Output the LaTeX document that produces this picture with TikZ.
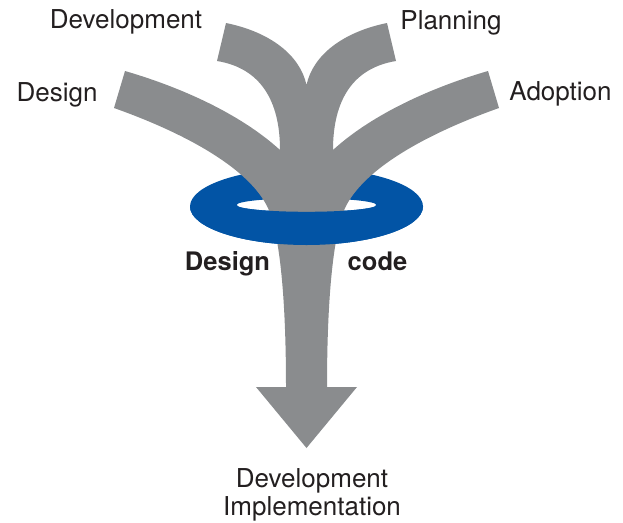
\documentclass[tikz,border=0pt]{standalone}
\usepackage{fontspec}
\setmainfont{TeX Gyre Heros}
\usepackage{tikz}
\usetikzlibrary{positioning}

\definecolor{stemgray}{RGB}{138,140,142}
\definecolor{ringblue}{RGB}{2,84,165}
\definecolor{textdark}{RGB}{35,31,32}

\tikzset{
  lbl/.style={text=textdark,inner sep=0pt,anchor=base,font=\fontsize{26}{28}\selectfont},
  boldlbl/.style={lbl,font=\fontsize{25.5}{28}\selectfont\bfseries},
}

\begin{document}
\begin{tikzpicture}[x=1pt,y=-1pt]
            \useasboundingbox (0,0) rectangle (623,522);

            % ring, back part
            \fill[ringblue,even odd rule] (306.5,206.5) ellipse [x radius=116.5,y radius=38.5]
                                          (306.5,205) ellipse [x radius=70,y radius=6.8];

            % branches and trunk
            \fill[stemgray] (306.5,448) -- (357,387) -- (327,387)
              .. controls (327,300) and (333,235) .. (345,208)
              .. controls (363,170) and (423,135) .. (499,108) -- (488,71)
              .. controls (423,90) and (368,118) .. (333,150)
              .. controls (333,100) and (353,68) .. (396,61) -- (387,23)
              .. controls (343,32) and (313,55) .. (306.5,85)
              .. controls (300,55) and (270,32) .. (226,23) -- (217,61)
              .. controls (260,68) and (280,100) .. (280,150)
              .. controls (245,118) and (190,90) .. (125,71) -- (114,108)
              .. controls (190,135) and (250,170) .. (268,208)
              .. controls (280,235) and (286,300) .. (286,387) -- (256,387) -- cycle;

            % ring, front part
            \begin{scope}
              \clip (0,205) rectangle (623,260);
              \fill[ringblue,even odd rule] (306.5,206.5) ellipse [x radius=116.5,y radius=38.5]
                                            (306.5,205) ellipse [x radius=70,y radius=6.8];
            \end{scope}

            \node[lbl] (dev)   at (126,28.3)  {Development};
            \node[lbl] (plan)  at (451,29.3)  {Planning};
            \node[lbl] (des)   at (57,101.7)  {Design};
            \node[lbl] (adopt) at (560.5,100.7) {Adoption};

            \node[boldlbl] (dcode) at (227.5,270) {Design};
            \node[boldlbl] (code)  at (377.5,270) {code};

            \node[lbl,anchor=north,align=center] (impl) at (312,468) {Development\\Implementation};

          \end{tikzpicture}
\end{document}
